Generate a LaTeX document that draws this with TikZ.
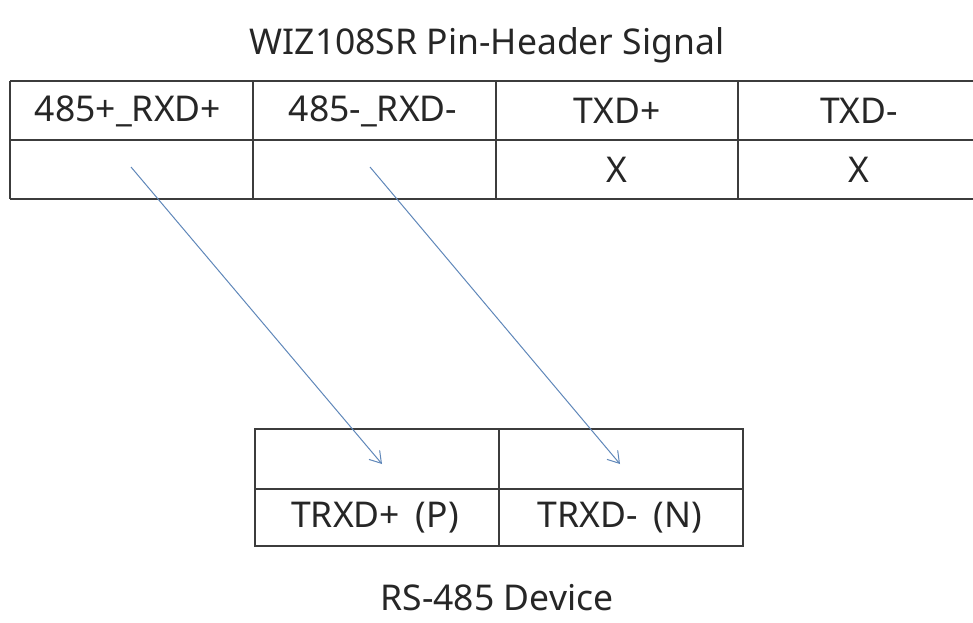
\documentclass[tikz,border=0pt]{standalone}
\usepackage{fontspec}
\setmainfont{Noto Sans}
\usetikzlibrary{arrows.meta}
\definecolor{gridc}{RGB}{60,60,60}
\definecolor{arrc}{RGB}{95,135,185}
\begin{document}
\begin{tikzpicture}[x=1pt,y=-1pt,
  lbl/.style={font=\fontsize{35.5}{40}\selectfont, text=black!85, inner sep=0pt},
  gridline/.style={draw=gridc, line width=1.6pt},
  conn/.style={draw=arrc, line width=1pt, -{Straight Barb[length=11pt,width=14pt,line width=1pt]}}]
\useasboundingbox (0,0) rectangle (973,622);
% title
\node[lbl] (title) at (487,45) {WIZ108SR Pin-Header Signal};
\node[lbl] (dev) at (497,598) {RS-485 Device};
% top table
\draw[gridline] (10,81) -- (980,81);
\draw[gridline] (10,140) -- (980,140);
\draw[gridline] (10,199) -- (980,199);
\draw[gridline] (10,81) -- (10,199);
\draw[gridline] (253,81) -- (253,199);
\draw[gridline] (496,81) -- (496,199);
\draw[gridline] (738,81) -- (738,199);
\node[lbl] (h1) at (128,111) {485+\_RXD+};
\node[lbl] (h2) at (373,111) {485-\_RXD-};
\node[lbl] (h3) at (617,111) {TXD+};
\node[lbl] (h4) at (859,111) {TXD-};
\node[lbl] (x3) at (617,170) {X};
\node[lbl] (x4) at (859,170) {X};
% bottom table
\draw[gridline] (255,429) rectangle (743,546);
\draw[gridline] (255,489) -- (743,489);
\draw[gridline] (499,429) -- (499,546);
\node[lbl] (p) at (375,518) {TRXD+\hspace{0.45em}(P)};
\node[lbl] (n) at (620,518) {TRXD-\hspace{0.45em}(N)};
% connectors
\coordinate (s1) at (131,167);
\coordinate (e1) at (382,464);
\coordinate (s2) at (370,167);
\coordinate (e2) at (620,464);
\draw[conn] (s1) -- (e1);
\draw[conn] (s2) -- (e2);
\end{tikzpicture}
\end{document}
